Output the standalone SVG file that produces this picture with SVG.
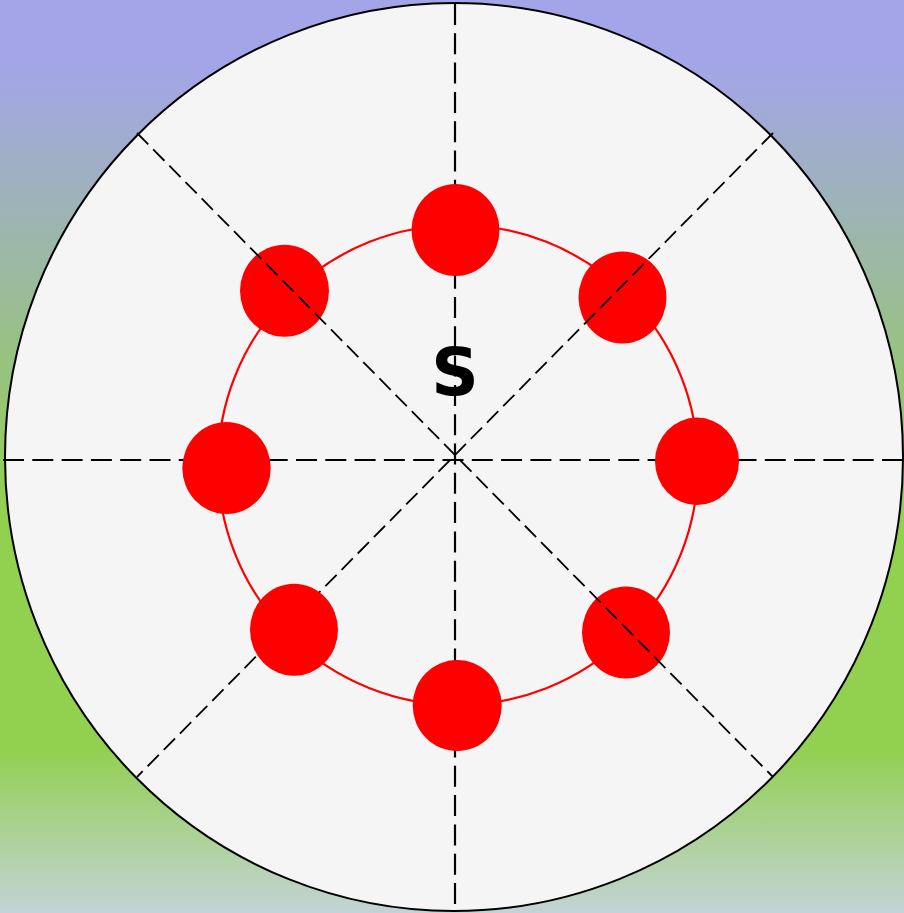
<svg xmlns="http://www.w3.org/2000/svg" width="904" height="913" viewBox="0 0 904 913">
  <defs>
    <linearGradient id="bg" x1="0" y1="0" x2="0" y2="1">
      <stop offset="0" stop-color="#a3a5e8"/>
      <stop offset="0.07" stop-color="#a3a5e8"/>
      <stop offset="0.55" stop-color="#92d050"/>
      <stop offset="0.82" stop-color="#92d050"/>
      <stop offset="1" stop-color="#c3d3d6"/>
    </linearGradient>
    <style>
      .axis { stroke: #000; stroke-width: 2.2; stroke-dasharray: 21 8.3; fill: none; }
      .diag { stroke: #000; stroke-width: 1.8; stroke-dasharray: 16 7; fill: none; }
      .dot { fill: #ff0000; }
      .ring { fill: none; stroke: #ff0000; stroke-width: 2.2; }
    </style>
  </defs>
  <rect x="0" y="0" width="904" height="913" fill="url(#bg)"/>
  <g id="outer-circle">
    <ellipse cx="454" cy="457" rx="449" ry="454" fill="#f5f5f5" stroke="#000" stroke-width="2"/>
  </g>
  <g id="axes">
    <line class="axis" x1="3" y1="460" x2="903" y2="460"/>
    <line class="axis" x1="455" y1="4" x2="455" y2="911"/>
  </g>
  <g id="ring">
    <circle class="ring" cx="458" cy="465" r="240"/>
  </g>
  <g id="dot-top"><ellipse class="dot" cx="455.5" cy="230" rx="44" ry="46"/></g>
  <g id="dot-top-right"><ellipse class="dot" cx="622.5" cy="297.5" rx="44" ry="46"/></g>
  <g id="dot-right"><ellipse class="dot" cx="697" cy="461.3" rx="42" ry="43.7"/></g>
  <g id="dot-bottom-right"><ellipse class="dot" cx="626" cy="632.5" rx="44" ry="46"/></g>
  <g id="dot-bottom"><ellipse class="dot" cx="457.2" cy="705.5" rx="44.5" ry="45.5"/></g>
  <g id="dot-left"><ellipse class="dot" cx="226.5" cy="468" rx="44.2" ry="46"/></g>
  <g id="dot-top-left"><ellipse class="dot" cx="284.5" cy="290.8" rx="44.5" ry="46"/></g>
  <g id="connectors">
    <line class="diag" x1="137" y1="133" x2="773" y2="777"/>
    <line class="diag" x1="773" y1="133" x2="137" y2="777"/>
  </g>
  <g id="dot-bottom-left"><ellipse class="dot" cx="294" cy="629.8" rx="44" ry="46"/></g>
  <g id="label-s">
    <text x="455" y="395" text-anchor="middle" font-family="DejaVu Sans, sans-serif" font-weight="bold" font-size="66" fill="#000">S</text>
  </g>
</svg>
